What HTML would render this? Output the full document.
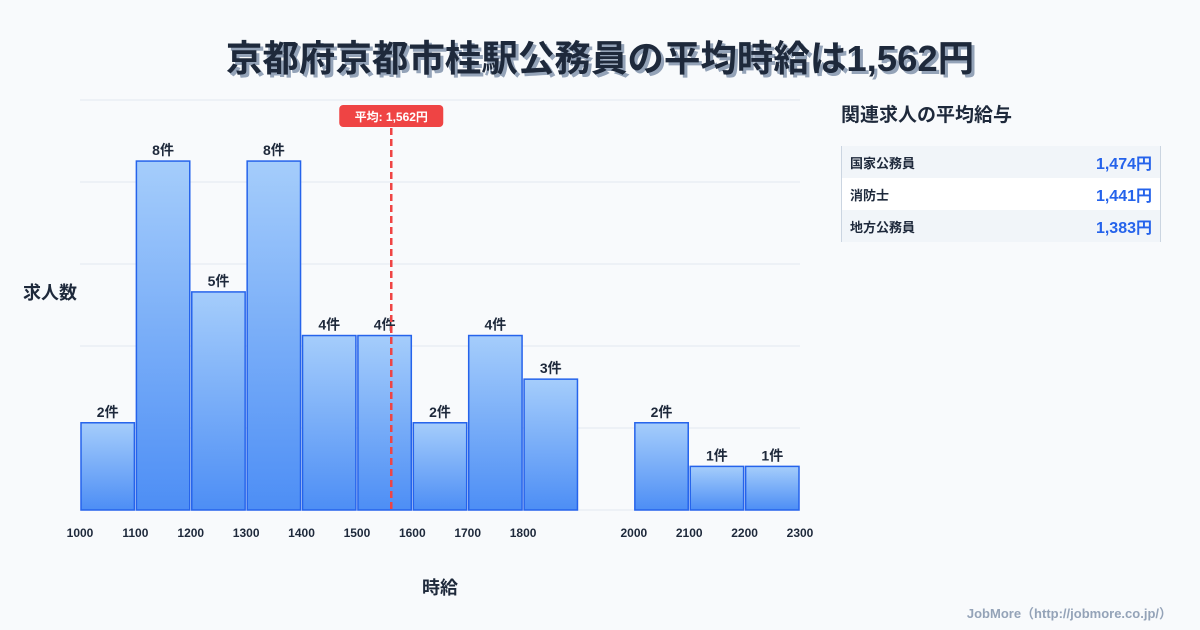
<!DOCTYPE html>
<html><head><meta charset="utf-8"><style>
body{margin:0;width:1200px;height:630px;background:#f8fafc;font-family:"Liberation Sans","Noto Sans CJK JP",sans-serif;overflow:hidden;position:relative;color:#1e293b}
.title{position:absolute;top:29px;left:0;width:1200px;text-align:center;font-size:36.5px;font-weight:bold;color:#1e293b;text-shadow:3px 3px 0 #94a3b8}
.side{position:absolute;left:841px;top:100px;width:320px}
.side h2{margin:0;font-size:19px;font-weight:bold;color:#1e293b}
table{margin-top:19px;width:320px;border-collapse:collapse;border-left:1px solid #cbd5e1;border-right:1px solid #cbd5e1}
td{height:32px;font-size:13px;font-weight:bold;padding:0 8px}
tr:nth-child(odd){background:#f1f5f9}tr:nth-child(even){background:#fff}
td.v{text-align:right;color:#2563eb;font-size:16px}
.foot{position:absolute;right:28px;top:603px;font-size:13px;color:#94a3b8;font-weight:bold}
</style></head><body>
<div class="title">京都府京都市桂駅公務員の平均時給は1,562円</div>
<svg id="c" width="1200" height="630" style="position:absolute;left:0;top:0"></svg>
<div class="side">
<h2>関連求人の平均給与</h2>
<table>
<tr><td>国家公務員</td><td class="v">1,474円</td></tr>
<tr><td>消防士</td><td class="v">1,441円</td></tr>
<tr><td>地方公務員</td><td class="v">1,383円</td></tr>
</table></div>
<div class="foot">JobMore（http://jobmore.co.jp/）</div>
<script>
const binStarts=[1000,1100,1200,1300,1400,1500,1600,1700,1800,1900,2000,2100,2200];
const counts=[2,8,5,8,4,4,2,4,3,0,2,1,1];
const tickLabels=[1000,1100,1200,1300,1400,1500,1600,1700,1800,2000,2100,2200,2300];
const gridDivisions=5;
const meanValue=1562;
const x0=80,x1=800,y0=510,y1=100,xmin=1000,xmax=2300,ymax=9.4;
const sx=v=>x0+(v-xmin)*(x1-x0)/(xmax-xmin);
const sy=v=>y0-v*(y0-y1)/ymax;
const svg=document.getElementById('c');const NS='http://www.w3.org/2000/svg';
function mk(t,a,txt){const e=document.createElementNS(NS,t);for(const k in a)e.setAttribute(k,a[k]);if(txt!=null)e.textContent=txt;svg.appendChild(e);return e;}
const defs=mk('defs',{});
defs.innerHTML='<linearGradient id="g" x1="0" y1="0" x2="0" y2="1"><stop offset="0" stop-color="#a5cdfb"/><stop offset="1" stop-color="#4d8ef5"/></linearGradient>';
for(let i=0;i<=gridDivisions;i++){const y=y0-i*(y0-y1)/gridDivisions;
const l=mk('line',{x1:x0,x2:x1,y1:y,y2:y,stroke:'#e2e8f0','stroke-width':1});

}
binStarts.forEach((b,i)=>{if(!counts[i])return;
const r=mk('rect',{x:sx(b)+1,y:sy(counts[i]),width:sx(b+100)-sx(b)-2,height:y0-sy(counts[i]),fill:'url(#g)',stroke:'#2563eb','stroke-width':1.5});


const t=mk('text',{x:(sx(b)+sx(b+100))/2,y:sy(counts[i])-6,'text-anchor':'middle','font-size':14,'font-weight':'bold',fill:'#1e293b'},counts[i]+'件');

});
tickLabels.forEach(v=>{const t=mk('text',{x:sx(v),y:537,'text-anchor':'middle','font-size':12,'font-weight':'bold',fill:'#1e293b'},v);

});
const mx=sx(meanValue);
const ml=mk('line',{x1:mx,x2:mx,y1:128,y2:510,stroke:'#ef4444','stroke-width':2.5,'stroke-dasharray':'7,4'});


const mb=mk('rect',{x:mx-52,y:105,width:104,height:22,rx:4,fill:'#ef4444'});


const mt=mk('text',{x:mx,y:121,'text-anchor':'middle','font-size':12,'font-weight':'bold',fill:'#fff'},'平均: 1,562円');


const yt=mk('text',{x:50,y:299,'text-anchor':'middle','font-size':18,'font-weight':'bold',fill:'#1e293b'},'求人数');


const xt=mk('text',{x:440,y:594,'text-anchor':'middle','font-size':18,'font-weight':'bold',fill:'#1e293b'},'時給');


</script>
</body></html>
